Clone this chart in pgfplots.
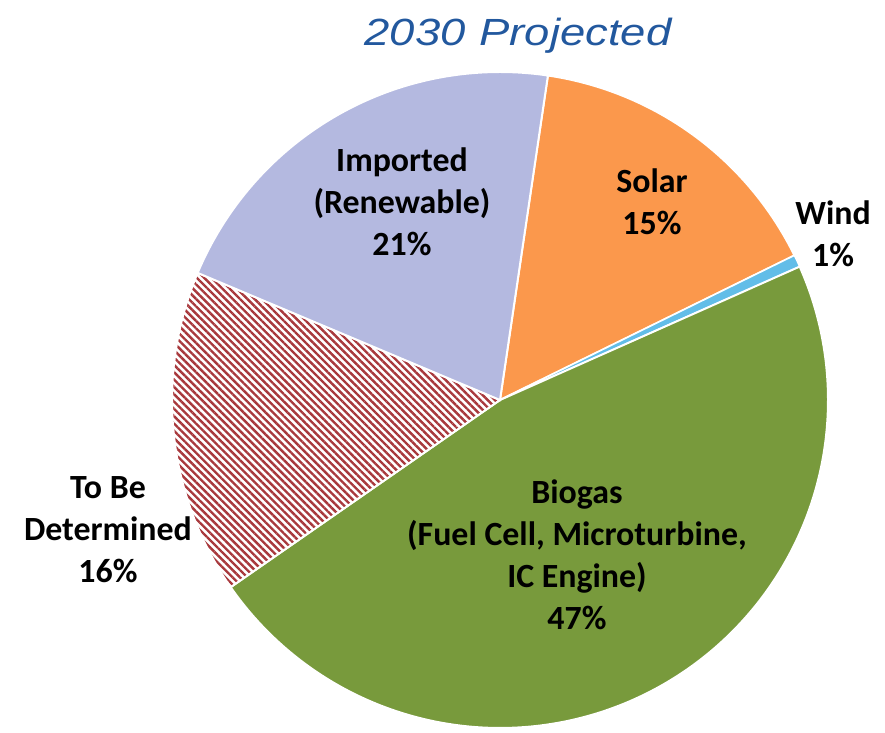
\documentclass[border=0pt]{standalone}
\usepackage{pgfplots}
\pgfplotsset{compat=1.18}
\usepackage{fontspec}
\setmainfont{Carlito}
\newfontfamily\titlefont{Liberation Sans}
\usetikzlibrary{patterns.meta}
\definecolor{solar}{HTML}{FB984C}
\definecolor{wind}{HTML}{62BDE8}
\definecolor{biogas}{HTML}{789A3C}
\definecolor{imported}{HTML}{B4B9E0}
\definecolor{hatch}{HTML}{A8383C}
\definecolor{titleblue}{HTML}{22589E}
% slice shares in percent, clockwise from the Solar edge
\def\vSolar{15.4}
\def\vWind{0.6}
\def\vBiogas{47}
\def\vTBD{16}
\def\vImported{21}
\pgfmathsetmacro\aA{81.6}
\pgfmathsetmacro\aB{\aA-3.6*\vSolar}
\pgfmathsetmacro\aC{\aB-3.6*\vWind}
\pgfmathsetmacro\aD{\aC-3.6*\vBiogas}
\pgfmathsetmacro\aE{\aD-3.6*\vTBD}
\pgfmathsetmacro\aF{\aE-3.6*\vImported}
\def\cx{500}\def\cy{333}\def\rr{328}
\begin{document}
\begin{tikzpicture}
\begin{axis}[width=885bp,height=733bp,scale only axis,
  xmin=0,xmax=885,ymin=0,ymax=733,hide axis,clip=false]
\path (axis cs:0,0) rectangle (axis cs:885,733);
\addplot[fill=solar,draw=white,line width=2pt,domain=\aB:\aA,samples=90,variable=\t]
  ({\cx+\rr*cos(\t)},{\cy+\rr*sin(\t)}) -- (axis cs:\cx,\cy) -- cycle;
\addplot[fill=wind,draw=white,line width=1.5pt,domain=\aC:\aB,samples=10,variable=\t]
  ({\cx+\rr*cos(\t)},{\cy+\rr*sin(\t)}) -- (axis cs:\cx,\cy) -- cycle;
\addplot[fill=biogas,draw=white,line width=2pt,domain=\aD:\aC,samples=200,variable=\t]
  ({\cx+\rr*cos(\t)},{\cy+\rr*sin(\t)}) -- (axis cs:\cx,\cy) -- cycle;
\addplot[pattern={Lines[angle=-45,distance=5.2pt,line width=2.4pt]},pattern color=hatch,
  draw=white,line width=2pt,domain=\aE:\aD,samples=90,variable=\t]
  ({\cx+\rr*cos(\t)},{\cy+\rr*sin(\t)}) -- (axis cs:\cx,\cy) -- cycle;
\addplot[fill=imported,draw=white,line width=2pt,domain=\aF:\aE,samples=100,variable=\t]
  ({\cx+\rr*cos(\t)},{\cy+\rr*sin(\t)}) -- (axis cs:\cx,\cy) -- cycle;
% title
\node[text=titleblue] at (axis cs:518,697)
  {\scalebox{1.2}[1]{\titlefont\itshape\fontsize{38}{42}\selectfont 2030\hspace{0.3em}Projected}};
% labels
\begin{scope}[every node/.style={align=center,font=\bfseries\fontsize{34}{42}\selectfont}]
\node at (axis cs:402,531) {Imported\\(Renewable)\\21\%};
\node at (axis cs:652,531) {Solar\\15\%};
\node at (axis cs:833,499) {Wind\\1\%};
\node at (axis cs:577,178) {Biogas\\(Fuel Cell, Microturbine,\\IC Engine)\\47\%};
\node at (axis cs:108,203) {To Be\\Determined\\16\%};
\end{scope}
\end{axis}
\end{tikzpicture}
\end{document}
